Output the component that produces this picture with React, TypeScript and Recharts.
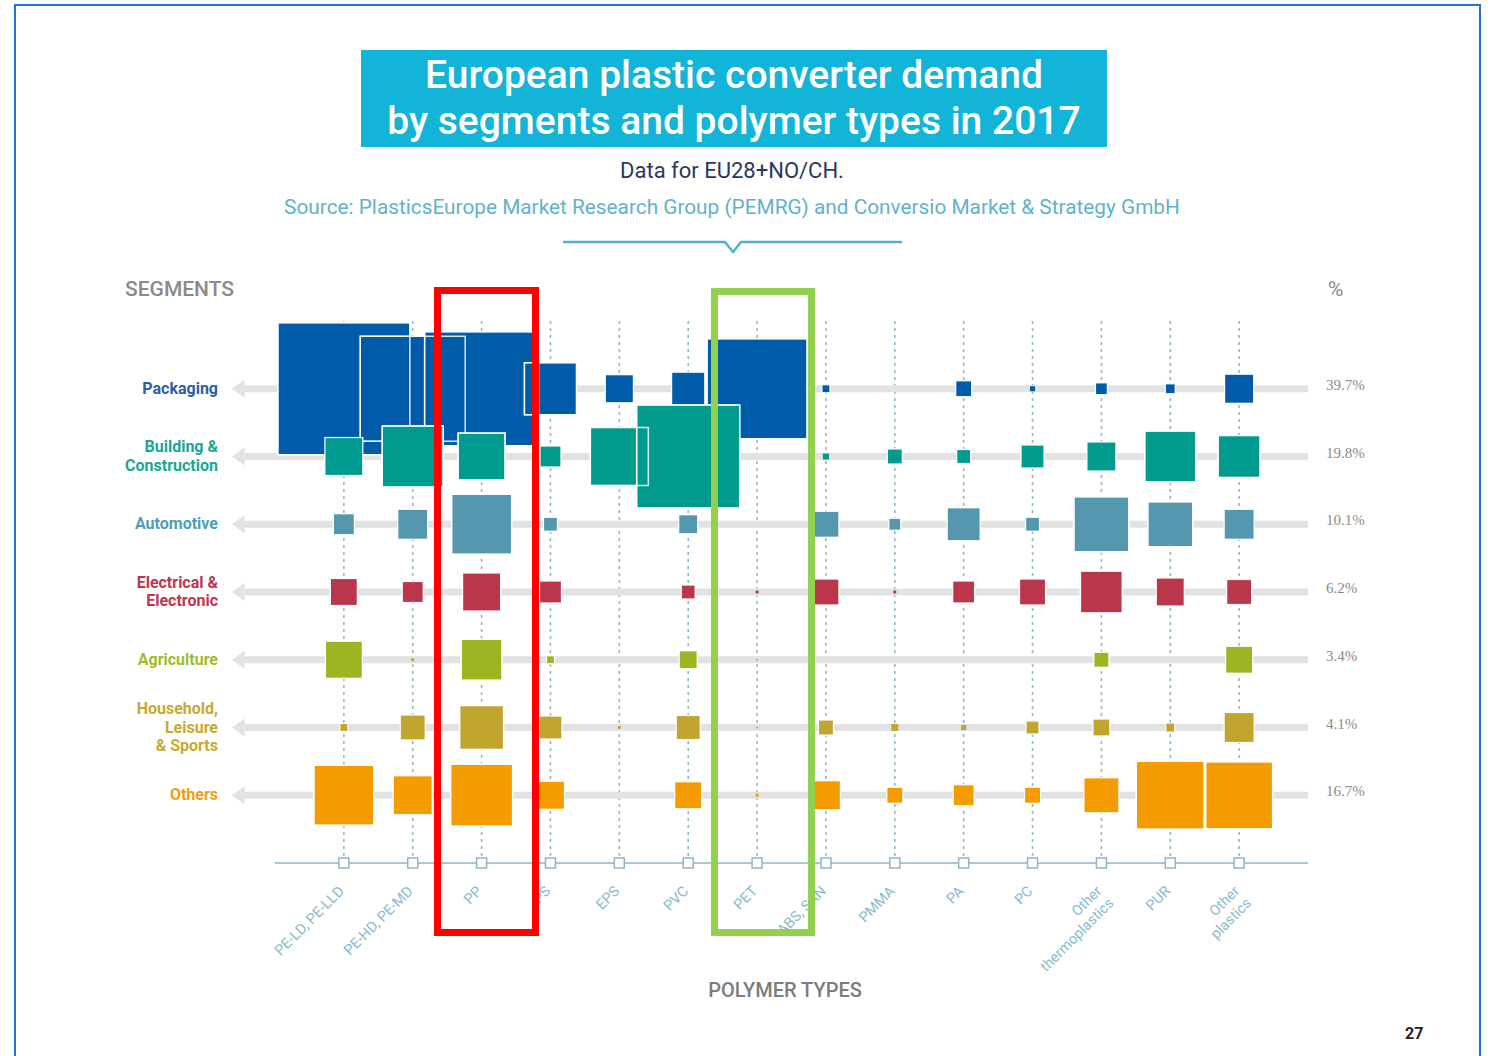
import React from "react";
import { ScatterChart, Scatter, XAxis, YAxis, ZAxis, ReferenceLine } from "recharts";

// polymer types (columns) and segments (rows)
const polymers = [
  "PE-LD, PE-LLD",
  "PE-HD, PE-MD",
  "PP",
  "PS",
  "EPS",
  "PVC",
  "PET",
  "ABS, SAN",
  "PMMA",
  "PA",
  "PC",
  "Other\nthermoplastics",
  "PUR",
  "Other\nplastics",
];

const segments = [
  "Packaging",
  "Building &\nConstruction",
  "Automotive",
  "Electrical &\nElectronic",
  "Agriculture",
  "Household,\nLeisure\n& Sports",
  "Others",
];

const segmentShares = ["39.7%", "19.8%", "10.1%", "6.2%", "3.4%", "4.1%", "16.7%"];

const segmentColors = ["#005ca9", "#009a8f", "#5497af", "#b9364b", "#9db423", "#c1a52f", "#f49b00"];
const segmentLabelColors = ["#2a5ea6", "#1aa596", "#4f9db7", "#c2344e", "#9dbd2b", "#c8a833", "#f49d10"];

// estimated demand, kt, one value per polymer type
const packaging = [6170, 3900, 4600, 960, 280, 390, 3540, 23, 0, 90, 9, 50, 35, 300];
const buildingConstruction = [510, 1320, 780, 156, 1190, 3760, 0, 13, 80, 69, 187, 298, 920, 624];
const automotive = [156, 319, 1274, 69, 0, 128, 0, 239, 51, 386, 69, 1071, 717, 319];
const electrical = [258, 156, 511, 171, 0, 69, 3, 239, 3, 171, 239, 624, 278, 221];
const agriculture = [485, 3, 595, 23, 0, 115, 1, 0, 0, 0, 0, 80, 0, 258];
const household = [23, 221, 685, 187, 3, 204, 1, 80, 17, 9, 60, 102, 29, 319];
const others = [1274, 538, 1361, 278, 0, 258, 3, 298, 91, 156, 91, 434, 1637, 1589];

const rows = [packaging, buildingConstruction, automotive, electrical, agriculture, household, others];

const colTicks = polymers.map((_, i) => i);
const rowTicks = segments.map((_, i) => i);

const Square = (props: any) => {
  const { cx, cy, size, fill } = props;
  if (!size || size <= 0) return <g />;
  const s = Math.sqrt(size);
  return (
    <rect
      x={cx - s / 2}
      y={cy - s / 2}
      width={s}
      height={s}
      fill={fill}
      stroke={s > 8 ? "#ffffff" : "none"}
      strokeWidth={1.2}
    />
  );
};

const SquareOutline = (props: any) => {
  const { cx, cy, size } = props;
  if (!size || size <= 0) return <g />;
  const s = Math.sqrt(size);
  if (s < 40) return <g />;
  return (
    <rect
      x={cx - s / 2}
      y={cy - s / 2}
      width={s}
      height={s}
      fill="none"
      stroke="#ffffff"
      strokeOpacity={0.85}
      strokeWidth={1.5}
    />
  );
};

const RowLine = (p: any) => {
  const { x1, y1, x2 } = p;
  return (
    <g>
      <line x1={x1} y1={y1} x2={x2} y2={y1} stroke="#e2e2e2" strokeWidth={7} />
      <polygon points={`${x1 - 13},${y1} ${x1},${y1 - 9} ${x1},${y1 + 9}`} fill="#e2e2e2" />
    </g>
  );
};

const PolymerTick = (props: any) => {
  const { x, y, payload } = props;
  const lines = polymers[payload.value].split("\n");
  return (
    <g>
      <rect x={x - 5} y={y - 5} width={10} height={10} fill="#ffffff" stroke="#8db6c6" strokeWidth={1.5} />
      <text
        transform={`translate(${x + 1},${y + 29}) rotate(-45)`}
        textAnchor="end"
        fill="#86bcd0"
        fontSize={14.5}
        fontFamily="Roboto, sans-serif"
      >
        {lines.map((l: string, i: number) => (
          <tspan key={i} x={0} dy={i === 0 ? 0 : 17}>
            {l}
          </tspan>
        ))}
      </text>
    </g>
  );
};

const SegmentTick = (props: any) => {
  const { x, y, payload } = props;
  const lines = segments[payload.value].split("\n");
  const n = lines.length;
  return (
    <text
      x={x - 57}
      textAnchor="end"
      fill={segmentLabelColors[payload.value]}
      fontSize={16}
      fontWeight={700}
      fontFamily="Roboto, sans-serif"
    >
      {lines.map((l: string, i: number) => (
        <tspan key={i} x={x - 57} y={y + (i - (n - 1) / 2) * 18.5 + 5}>
          {l}
        </tspan>
      ))}
    </text>
  );
};

const ShareTick = (props: any) => {
  const { x, y, payload } = props;
  return (
    <text x={x + 18} y={y + 1} fill="#8a8a8a" fontSize={15} fontFamily="'Liberation Serif', serif">
      {segmentShares[payload.value]}
    </text>
  );
};

const W = 1491;
const H = 1056;

export default function App() {
  const seriesData = rows.map((vals, r) => vals.map((v, c) => ({ x: c, y: r, z: v })));

  return (
    <div
      style={{
        position: "absolute",
        left: 0,
        top: 0,
        width: W,
        height: H,
        background: "#ffffff",
        overflow: "hidden",
        fontFamily: "Roboto, sans-serif",
      }}
    >
      <div
        style={{
          position: "absolute",
          left: 14,
          top: 4,
          width: 1467,
          height: 1100,
          border: "2px solid #1f77d0",
          boxSizing: "border-box",
        }}
      />
      <div style={{ position: "absolute", left: 0, top: 0 }}>
        <ScatterChart width={W} height={H} margin={{ top: 321, right: 123, bottom: 93, left: 215 }}>
          <XAxis
            dataKey="x"
            type="number"
            domain={[-1, 14]}
            ticks={colTicks}
            interval={0}
            height={100}
            tickSize={0}
            tickMargin={0}
            tickLine={false}
            axisLine={{ stroke: "#a9c8d3", strokeWidth: 2 }}
            tick={<PolymerTick />}
          />
          <YAxis
            yAxisId="seg"
            dataKey="y"
            type="number"
            domain={[-1, 7]}
            reversed
            ticks={rowTicks}
            interval={0}
            width={60}
            tickSize={0}
            tickMargin={0}
            tickLine={false}
            axisLine={false}
            tick={<SegmentTick />}
          />
          <YAxis
            yAxisId="pct"
            dataKey="y"
            orientation="right"
            type="number"
            domain={[-1, 7]}
            reversed
            ticks={rowTicks}
            interval={0}
            width={60}
            tickSize={0}
            tickMargin={0}
            tickLine={false}
            axisLine={false}
            tick={<ShareTick />}
          />
          <ZAxis dataKey="z" type="number" domain={[0, 7000]} range={[0, 19775]} />
          {colTicks.map((i) => (
            <ReferenceLine
              key={`v${i}`}
              yAxisId="seg"
              x={i}
              stroke="#8fb9c9"
              strokeWidth={1.6}
              strokeDasharray="3 4"
            />
          ))}
          {rowTicks.map((r) => (
            <ReferenceLine
              key={`h${r}`}
              yAxisId="seg"
              segment={[
                { x: -1.44, y: r },
                { x: 14, y: r },
              ]}
              ifOverflow="visible"
              shape={RowLine}
            />
          ))}
          {seriesData.flatMap((d, r) => [
            <Scatter
              key={`f${r}`}
              yAxisId="seg"
              data={d}
              fill={segmentColors[r]}
              shape={Square}
              isAnimationActive={false}
            />,
            <Scatter
              key={`o${r}`}
              yAxisId="pct"
              data={d}
              fill="none"
              shape={SquareOutline}
              isAnimationActive={false}
            />,
          ])}
        </ScatterChart>
      </div>

      {/* title block */}
      <div
        style={{
          position: "absolute",
          left: 361,
          top: 50,
          width: 746,
          height: 97,
          background: "#12b5d7",
          color: "#ffffff",
          fontSize: 39,
          fontWeight: 500,
          lineHeight: "46px",
          textAlign: "center",
          paddingTop: 2,
          boxSizing: "border-box",
        }}
      >
        <div>European plastic converter demand</div>
        <div>by segments and polymer types in 2017</div>
      </div>
      <div
        style={{
          position: "absolute",
          left: 332,
          width: 800,
          top: 158,
          textAlign: "center",
          fontSize: 22,
          fontWeight: 400,
          color: "#29385c",
        }}
      >
        Data for EU28+NO/CH.
      </div>
      <div
        style={{
          position: "absolute",
          left: 182,
          width: 1100,
          top: 195,
          textAlign: "center",
          fontSize: 20.8,
          color: "#5fb2cc",
        }}
      >
        Source: PlasticsEurope Market Research Group (PEMRG) and Conversio Market &amp; Strategy GmbH
      </div>
      <svg style={{ position: "absolute", left: 0, top: 0 }} width={W} height={300}>
        <polyline points="563,242 725,242 733,252 741,242 902,242" fill="none" stroke="#4fb3cc" strokeWidth={2.5} />
      </svg>

      <div style={{ position: "absolute", left: 125, top: 277, fontSize: 21, fontWeight: 500, color: "#8a8a8a" }}>
        SEGMENTS
      </div>
      <div style={{ position: "absolute", left: 1328, top: 277, fontSize: 21, color: "#8a8a8a" }}>%</div>
      <div
        style={{
          position: "absolute",
          left: 635,
          width: 300,
          top: 978,
          textAlign: "center",
          fontSize: 20,
          fontWeight: 500,
          color: "#7c7c7c",
        }}
      >
        POLYMER TYPES
      </div>
      <div style={{ position: "absolute", left: 1405, top: 1024, fontSize: 16, fontWeight: 700, color: "#222" }}>27</div>

      {/* highlight boxes */}
      <div
        style={{
          position: "absolute",
          left: 434,
          top: 287,
          width: 105,
          height: 649,
          border: "7px solid #ff0000",
          boxSizing: "border-box",
        }}
      />
      <div
        style={{
          position: "absolute",
          left: 711,
          top: 288,
          width: 104,
          height: 648,
          border: "7px solid #92d050",
          boxSizing: "border-box",
        }}
      />
    </div>
  );
}
